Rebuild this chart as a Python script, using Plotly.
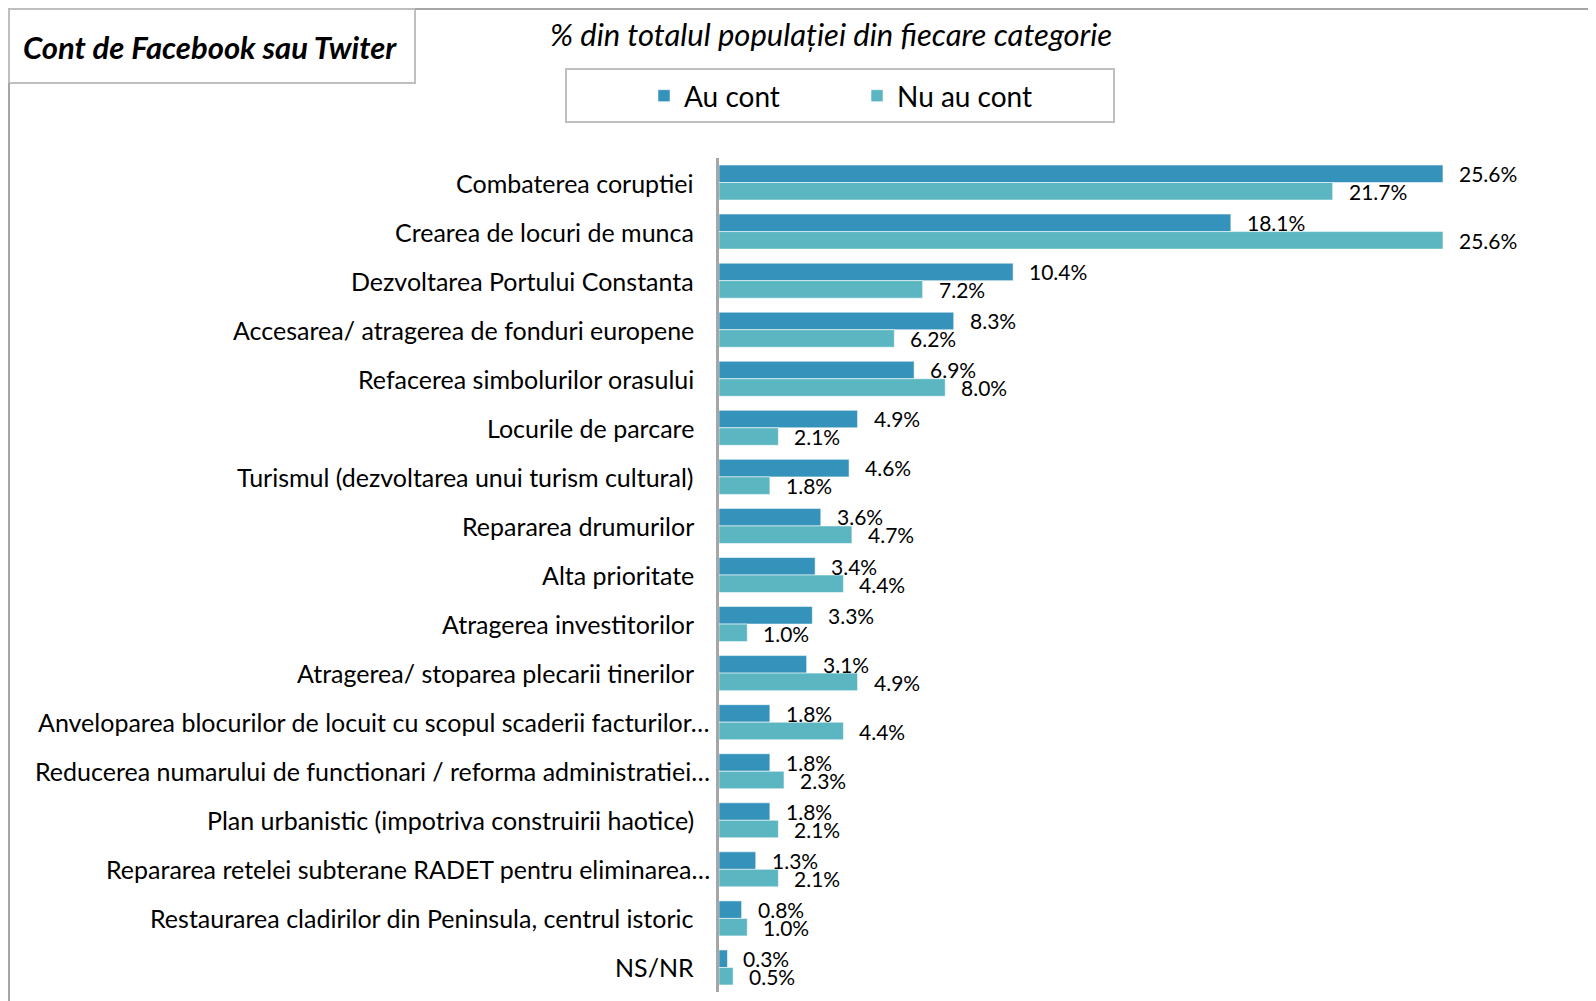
import plotly.graph_objects as go

categories = [
    "Combaterea coruptiei",
    "Crearea de locuri de munca",
    "Dezvoltarea Portului Constanta",
    "Accesarea/ atragerea de fonduri europene",
    "Refacerea simbolurilor orasului",
    "Locurile de parcare",
    "Turismul (dezvoltarea unui turism cultural)",
    "Repararea drumurilor",
    "Alta prioritate",
    "Atragerea investitorilor",
    "Atragerea/ stoparea plecarii tinerilor",
    "Anveloparea blocurilor de locuit cu scopul scaderii facturilor…",
    "Reducerea numarului de functionari / reforma administratiei…",
    "Plan urbanistic (impotriva construirii haotice)",
    "Repararea retelei subterane RADET pentru eliminarea…",
    "Restaurarea cladirilor din Peninsula, centrul istoric",
    "NS/NR",
]
au_cont = [25.6, 18.1, 10.4, 8.3, 6.9, 4.9, 4.6, 3.6, 3.4, 3.3, 3.1, 1.8, 1.8, 1.8, 1.3, 0.8, 0.3]
nu_au_cont = [21.7, 25.6, 7.2, 6.2, 8.0, 2.1, 1.8, 4.7, 4.4, 1.0, 4.9, 4.4, 2.3, 2.1, 2.1, 1.0, 0.5]
series_names = ["Au cont", "Nu au cont"]
title_text = "Cont de Facebook sau Twiter"
subtitle_text = "% din totalul populației din fiecare categorie"

# page offset (browser default body margin)
OFF = 8
W, H = 1580, 993
L, R, T, B = 711, 28, 150, 9
PW, PH = W - L - R, H - T - B
FONT = "Lato, 'Open Sans', sans-serif"
C1, C2 = "#3592BA", "#5BB6C1"


def px_x(p):
    return (p - OFF - L) / PW


def px_y(p):
    return (H - B - (p - OFF)) / PH


fig = go.Figure()
fig.add_trace(go.Bar(y=categories, x=au_cont, name=series_names[0], orientation="h",
                     marker=dict(color=C1, line=dict(color="rgba(255,255,255,0.55)", width=1))))
fig.add_trace(go.Bar(y=categories, x=nu_au_cont, name=series_names[1], orientation="h",
                     marker=dict(color=C2, line=dict(color="rgba(255,255,255,0.55)", width=1))))

annotations = []
for cat in categories:
    trunc = cat.endswith("…")
    annotations.append(dict(x=px_x(712 if trunc else 696), xref="paper", y=cat, yref="y",
                            text=cat, showarrow=False, xanchor="right", yanchor="middle",
                            font=dict(family=FONT, size=25, color="#000000")))
for vals, shift in ((au_cont, 9), (nu_au_cont, -9)):
    for cat, v in zip(categories, vals):
        annotations.append(dict(x=v, xref="x", y=cat, yref="y", text=f"{v:.1f}%",
                                showarrow=False, xanchor="left", yanchor="middle",
                                xshift=14, yshift=shift,
                                font=dict(family=FONT, size=21, color="#000000")))
annotations.append(dict(x=px_x(210), xref="paper", y=px_y(47), yref="paper",
                        text=f"<b><i>{title_text}</i></b>", showarrow=False,
                        xanchor="center", yanchor="middle",
                        font=dict(family=FONT, size=31, color="#000000")))
annotations.append(dict(x=px_x(831), xref="paper", y=px_y(34), yref="paper",
                        text=f"<i>{subtitle_text}</i>", showarrow=False,
                        xanchor="center", yanchor="middle",
                        font=dict(family=FONT, size=31, color="#000000")))

shapes = [
    dict(type="rect", xref="paper", yref="paper", x0=px_x(9), x1=px_x(415), y0=px_y(83), y1=px_y(9),
         line=dict(color="#BFBFBF", width=2), fillcolor="rgba(0,0,0,0)", layer="below"),
    dict(type="line", xref="paper", yref="paper", x0=px_x(415), x1=px_x(1600), y0=px_y(9), y1=px_y(9),
         line=dict(color="#A6A6A6", width=2)),
    dict(type="line", xref="paper", yref="paper", x0=px_x(9), x1=px_x(9), y0=px_y(83), y1=px_y(1003),
         line=dict(color="#A6A6A6", width=2)),
    dict(type="rect", xref="paper", yref="paper", x0=px_x(566), x1=px_x(1114), y0=px_y(122), y1=px_y(69),
         line=dict(color="#BFBFBF", width=2), fillcolor="rgba(0,0,0,0)"),
]

fig.update_layout(
    width=W, height=H,
    margin=dict(l=L, r=R, t=T, b=B),
    paper_bgcolor="white", plot_bgcolor="white",
    barmode="group", bargap=0.286, bargroupgap=0,
    font=dict(family=FONT, color="#000000"),
    xaxis=dict(range=[0, PW / 28.28], visible=False, fixedrange=True),
    yaxis=dict(autorange="reversed", showticklabels=False, ticks="", showgrid=False,
               showline=True, linecolor="#A6A6A6", linewidth=3, zeroline=False),
    legend=dict(orientation="h", xref="container", yref="container",
                x=(644 - OFF) / W, xanchor="left", y=1 - (96 - OFF) / H, yanchor="middle",
                font=dict(family=FONT, size=28, color="#000000"),
                bgcolor="rgba(0,0,0,0)", borderwidth=0,
                entrywidth=168, entrywidthmode="pixels", traceorder="normal"),
    annotations=annotations,
    shapes=shapes,
)

fig.write_html("out.html")
